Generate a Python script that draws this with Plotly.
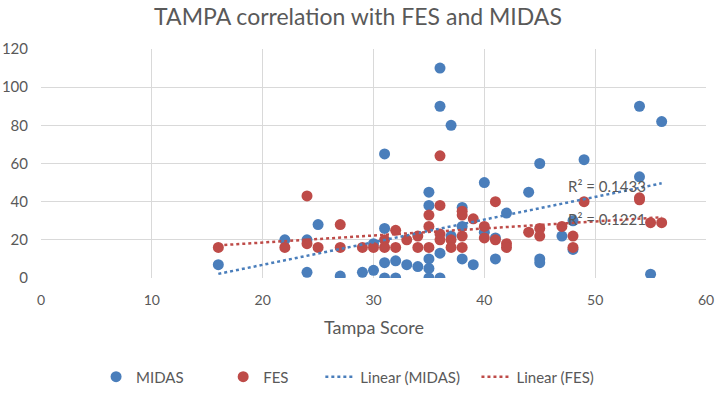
import numpy as np
import plotly.graph_objects as go

midas_x = [16, 22, 24, 24, 25, 27, 29, 30, 30, 31, 31, 31, 31, 32, 32, 33, 34, 35, 35, 35, 35, 35,
           36, 36, 36, 36, 37, 37, 38, 38, 38, 39, 40, 40, 41, 41, 42, 44, 45, 45, 45, 47, 48, 48,
           49, 54, 54, 55, 56]
midas_y = [7, 20, 20, 3, 28, 1, 3, 4, 18, 65, 26, 8, 0, 9, 0, 7, 6, 45, 38, 10, 5, 0,
           110, 90, 13, 0, 80, 22, 37, 27, 10, 7, 50, 24, 21, 10, 34, 45, 60, 10, 8, 22, 30, 15,
           62, 90, 53, 2, 82]

fes_x = [16, 22, 24, 24, 25, 27, 27, 29, 30, 31, 31, 32, 32, 33, 34, 34, 35, 35, 35,
         36, 36, 36, 36, 37, 37, 38, 38, 38, 38, 39, 40, 40, 41, 41, 42, 42, 44, 45, 45,
         47, 48, 48, 49, 54, 54, 55, 56]
fes_y = [16, 16, 43, 18, 16, 28, 16, 16, 16, 20, 16, 25, 16, 20, 22, 16, 33, 27, 16,
         64, 38, 23, 20, 20, 16, 35, 33, 22, 16, 31, 27, 21, 40, 20, 18, 16, 24, 26, 22,
         27, 22, 16, 40, 42, 41, 29, 29]

series_names = ["MIDAS", "FES", "Linear (MIDAS)", "Linear (FES)"]
r2_labels = ["R² = 0.1433", "R² = 0.1221"]

BLUE = "#4A7EBB"
RED = "#BE4B48"
TXT = "#595959"
FONT = "Lato"
NB = "\u00a0"

def trend(xs, ys):
    xs = np.array(xs, float)
    ys = np.array(ys, float)
    m, b = np.polyfit(xs, ys, 1)
    xx = np.array([xs.min(), xs.max()])
    return xx, m * xx + b

pads = [9, 7, 3, 0]
leg = [n + NB * p for n, p in zip(series_names, pads)]

fig = go.Figure()
fig.add_trace(go.Scatter(x=midas_x, y=midas_y, mode="markers", name=leg[0],
                         marker=dict(color=BLUE, size=11)))
fig.add_trace(go.Scatter(x=fes_x, y=fes_y, mode="markers", name=leg[1],
                         marker=dict(color=RED, size=11)))
tx, ty = trend(midas_x, midas_y)
fig.add_trace(go.Scatter(x=tx, y=ty, mode="lines", name=leg[2],
                         line=dict(color=BLUE, width=2.5, dash="dot")))
tx2, ty2 = trend(fes_x, fes_y)
fig.add_trace(go.Scatter(x=tx2, y=ty2, mode="lines", name=leg[3],
                         line=dict(color=RED, width=2.5, dash="dot")))

fig.add_annotation(x=47.4, y=48, text=r2_labels[0], showarrow=False, xanchor="left",
                   font=dict(family=FONT, size=15, color=TXT))
fig.add_annotation(x=47.4, y=31, text=r2_labels[1], showarrow=False, xanchor="left",
                   font=dict(family=FONT, size=15, color=TXT))
fig.add_annotation(x=0.5, y=-0.213, xref="paper", yref="paper", text="Tampa Score",
                   showarrow=False, xanchor="center", yanchor="middle",
                   font=dict(family=FONT, size=18, color=TXT))

fig.update_layout(
    width=716, height=403,
    margin=dict(l=41, r=10, t=49, b=114),
    paper_bgcolor="white", plot_bgcolor="white",
    title=dict(text="TAMPA correlation with FES and MIDAS", x=0.5, xanchor="center",
               y=0.959, yanchor="middle", font=dict(family=FONT, size=23, color=TXT)),
    font=dict(family=FONT, size=14, color=TXT),
    xaxis=dict(range=[0, 60], dtick=10, showgrid=True, gridcolor="#D9D9D9", gridwidth=1,
               zeroline=False, showline=False, ticks="", automargin=False,
               ticklabelstandoff=12, tickfont=dict(size=14, color=TXT)),
    yaxis=dict(range=[0, 120], dtick=20, showgrid=True, gridcolor="#D9D9D9", gridwidth=1,
               zeroline=False, showline=False, ticks="", automargin=False,
               ticklabelstandoff=12, tickfont=dict(size=15, color=TXT)),
    legend=dict(orientation="h", x=0.461, xanchor="center", y=-0.432, yanchor="middle",
                font=dict(size=15, color=TXT)),
    showlegend=True,
)

fig.write_html("out.html", config={"displayModeBar": False},
               post_script="document.body.style.margin='0';document.body.style.overflow='hidden';")
